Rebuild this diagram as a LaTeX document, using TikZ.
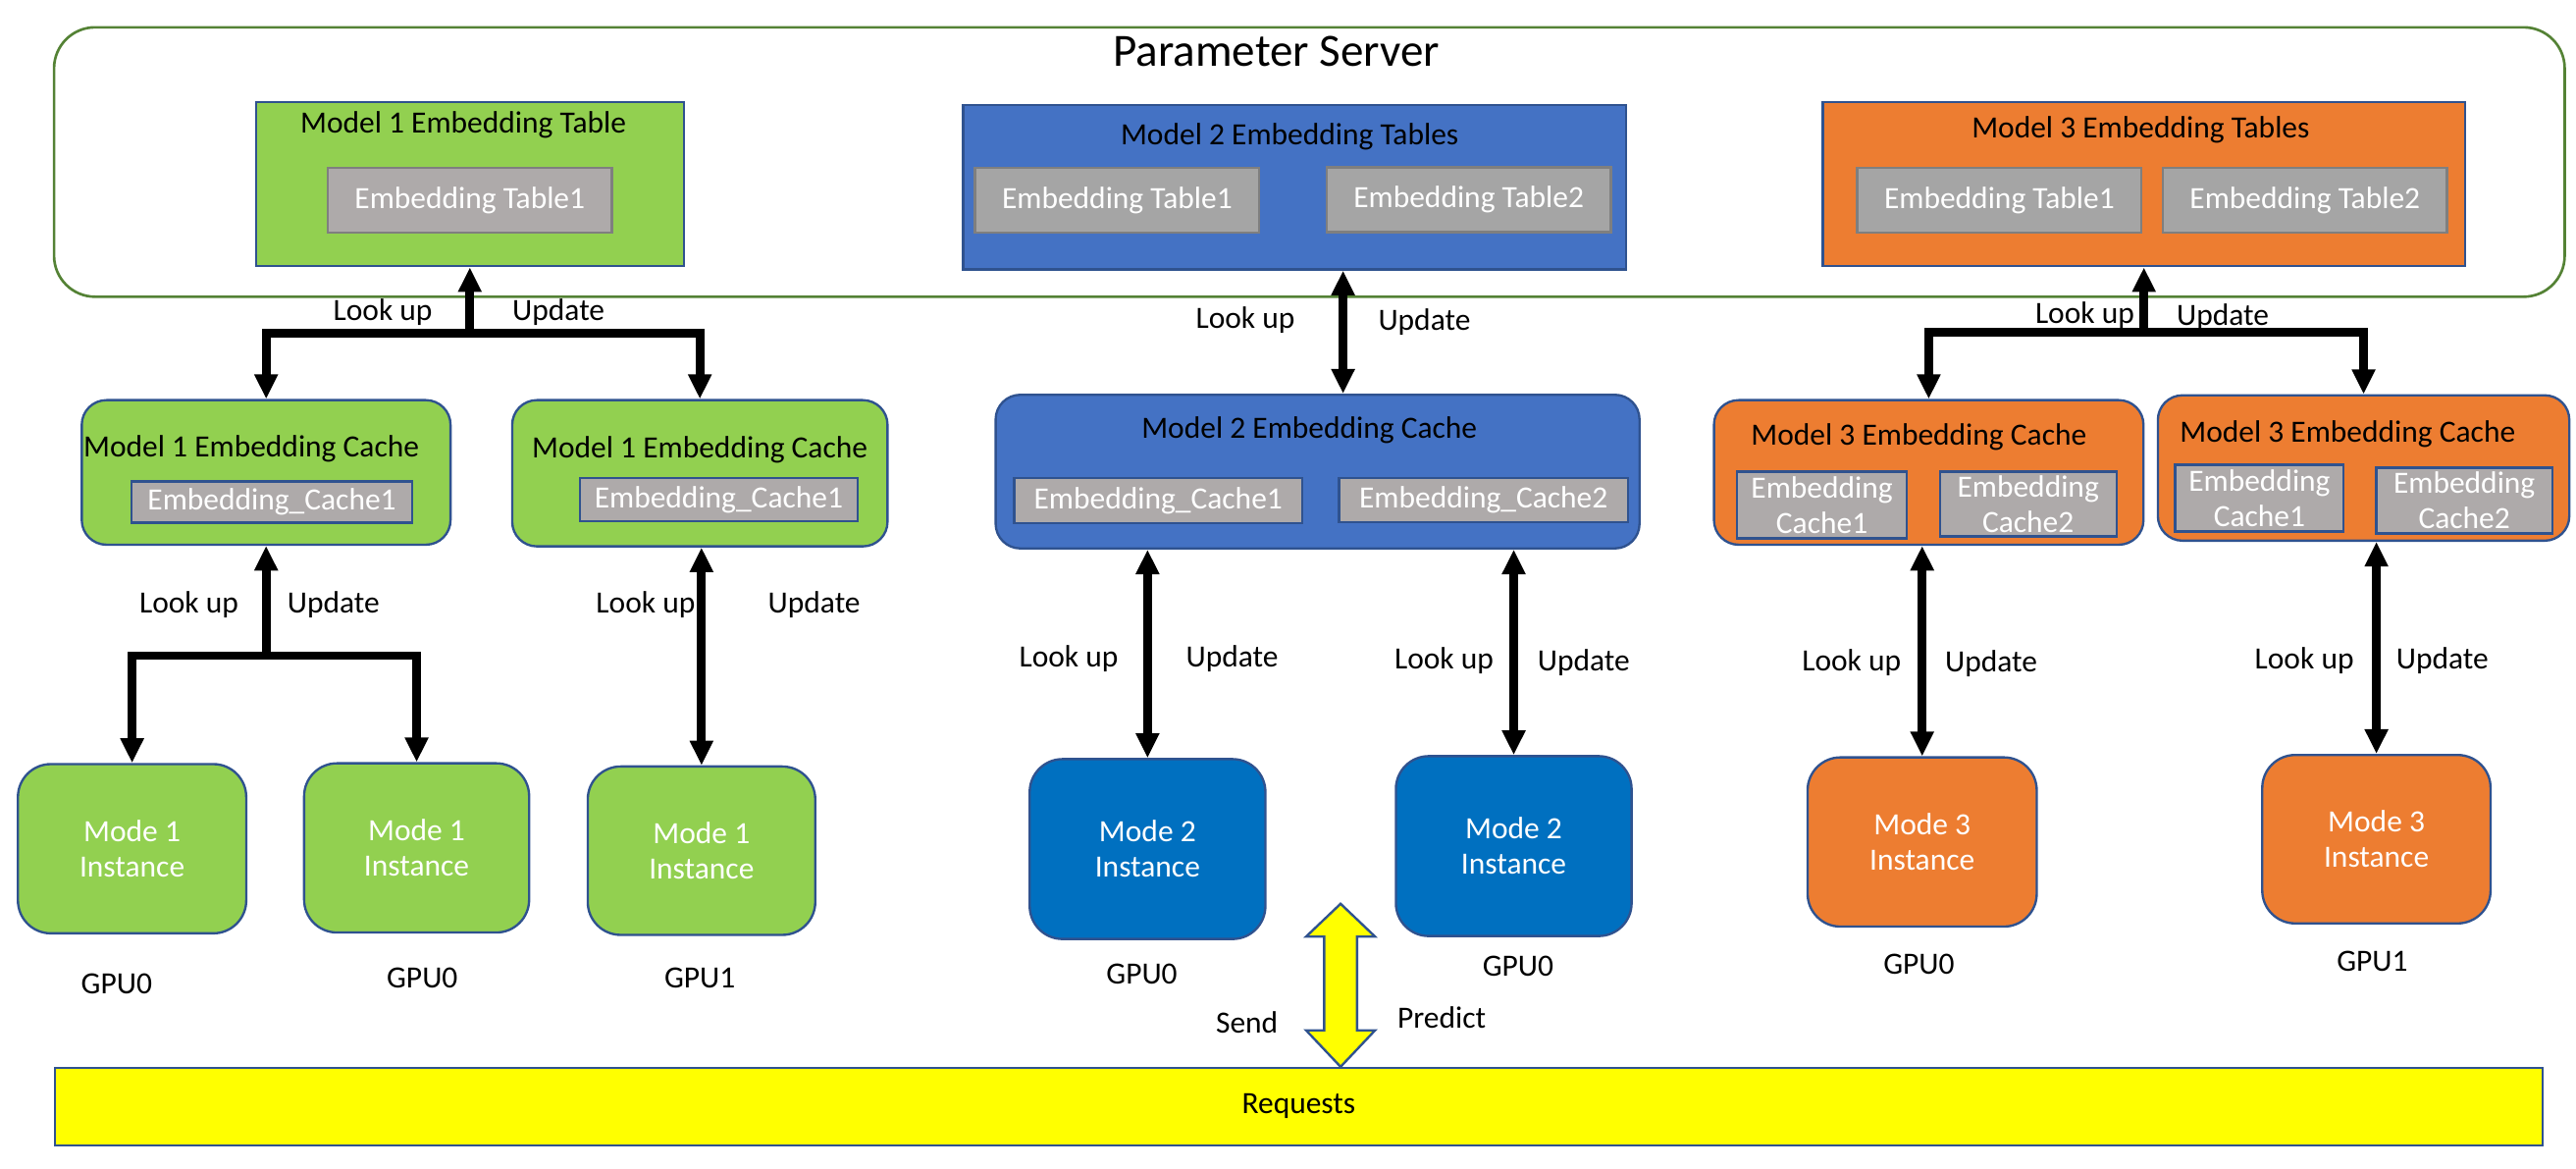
\documentclass[tikz,border=0pt]{standalone}
\usepackage{fontspec}
\setmainfont{Carlito}
\usetikzlibrary{arrows.meta}
\definecolor{psgreen}{HTML}{548235}
\definecolor{mgreen}{HTML}{92D050}
\definecolor{mblue}{HTML}{4472C4}
\definecolor{iblue}{HTML}{0070C0}
\definecolor{morange}{HTML}{ED7D31}
\definecolor{edgeblue}{HTML}{2F528F}
\definecolor{cgray}{HTML}{AEAAAA}
\definecolor{tgray}{HTML}{A5A5A5}
\definecolor{tedge}{HTML}{7F7F7F}
\definecolor{ryellow}{HTML}{FFFF00}

\begin{document}
\begin{tikzpicture}[x=0.02cm, y=-0.02cm,
    every node/.style={font=\fontsize{10.7}{12.3}\selectfont},
    box/.style={draw=edgeblue, line width=0.8pt, inner sep=0pt},
    cache/.style={box, rounded corners=0.3cm},
    inst/.style={box, rounded corners=0.4cm, minimum width=2.78cm, minimum height=2.06cm, text=white, align=center},
    tab/.style={draw=tedge, fill=tgray, line width=0.8pt, text=white, minimum width=3.46cm, minimum height=0.79cm, inner sep=0pt},
    ecache/.style={draw=edgeblue, fill=cgray, line width=0.8pt, text=white, inner sep=0pt, align=center},
    link/.style={line width=3pt, >={Triangle[width=0.27cm,length=0.3cm]}}]
    \useasboundingbox (0,0) rectangle (1568,711);

    \node[draw=psgreen, line width=0.9pt, rounded corners=0.5cm, minimum width=30.57cm, minimum height=3.28cm] (ps) at (797,98.6) {};
    \node[font=\fontsize{16}{19}\selectfont] (pst) at (777,31) {Parameter Server};

    \node[box, fill=mgreen, minimum width=5.21cm, minimum height=2cm] (T1) at (286,112) {};
    \node (T1t) at (282,76) {Model 1 Embedding Table};
    \node[tab, fill=cgray] (T1a) at (286,122) {Embedding Table1};

    \node[box, fill=mblue, minimum width=8.07cm, minimum height=2cm] (T2) at (788,114) {};
    \node (T2t) at (785,83) {Model 2 Embedding Tables};
    \node[tab] (T2a) at (680,122) {Embedding Table1};
    \node[tab] (T2b) at (894,121.5) {Embedding Table2};

    \node[box, fill=morange, minimum width=7.82cm, minimum height=2cm] (T3) at (1305,112) {};
    \node (T3t) at (1303,79) {Model 3 Embedding Tables};
    \node[tab] (T3a) at (1217,122) {Embedding Table1};
    \node[tab] (T3b) at (1403,122) {Embedding Table2};

    \node[cache, fill=mgreen, minimum width=4.49cm, minimum height=1.76cm] (C1a) at (162,287.5) {};
    \node (C1at) at (153,273) {Model 1 Embedding Cache};
    \node[ecache, minimum width=3.42cm, minimum height=0.5cm] (C1ae) at (165.5,305.5) {Embedding\_Cache1};

    \node[cache, fill=mgreen, minimum width=4.57cm, minimum height=1.78cm] (C1b) at (426,288) {};
    \node (C1bt) at (426,274) {Model 1 Embedding Cache};
    \node[ecache, minimum width=3.38cm, minimum height=0.52cm] (C1be) at (437.5,304) {Embedding\_Cache1};

    \node[cache, fill=mblue, minimum width=7.84cm, minimum height=1.87cm] (C2) at (802,287) {};
    \node (C2t) at (797,262) {Model 2 Embedding Cache};
    \node[ecache, minimum width=3.51cm, minimum height=0.55cm] (C2a) at (705,304.6) {Embedding\_Cache1};
    \node[ecache, minimum width=3.52cm, minimum height=0.54cm] (C2b) at (903,304.3) {Embedding\_Cache2};

    \node[cache, fill=morange, minimum width=5.23cm, minimum height=1.76cm] (C3a) at (1174,287.5) {};
    \node (C3at) at (1168,266) {Model 3 Embedding Cache};
    \node[ecache, minimum width=2.07cm, minimum height=0.81cm] (C3aa) at (1109,307.3) {Embedding\\Cache1};
    \node[ecache, minimum width=2.15cm, minimum height=0.79cm] (C3ab) at (1234.5,306.7) {Embedding\\Cache2};

    \node[cache, fill=morange, minimum width=5.01cm, minimum height=1.77cm] (C3b) at (1438.7,284.8) {};
    \node (C3bt) at (1429,264) {Model 3 Embedding Cache};
    \node[ecache, minimum width=2.05cm, minimum height=0.81cm] (C3ba) at (1375.3,303.1) {Embedding\\Cache1};
    \node[ecache, minimum width=2.14cm, minimum height=0.8cm] (C3bb) at (1500,304.6) {Embedding\\Cache2};

    \node[inst, fill=mgreen] (I1a) at (80.4,516.5) {Mode 1\\Instance};
    \node[inst, fill=mgreen, minimum width=2.74cm] (I1b) at (253.6,516) {Mode 1\\Instance};
    \node[inst, fill=mgreen, minimum width=2.77cm, minimum height=2.05cm] (I1c) at (427,517.7) {Mode 1\\Instance};
    \node[inst, fill=iblue, minimum width=2.87cm, minimum height=2.19cm] (I2a) at (698.5,516.7) {Mode 2\\Instance};
    \node[inst, fill=iblue, minimum width=2.87cm, minimum height=2.19cm] (I2b) at (921.4,514.9) {Mode 2\\Instance};
    \node[inst, fill=morange, minimum width=2.79cm] (I3a) at (1170,512.4) {Mode 3\\Instance};
    \node[inst, fill=morange, minimum height=2.05cm] (I3b) at (1446.5,510.7) {Mode 3\\Instance};

    \node (g1a) at (71,599) {GPU0};
    \node (g1b) at (257,595) {GPU0};
    \node (g1c) at (426,595) {GPU1};
    \node (g2a) at (695,593) {GPU0};
    \node (g2b) at (924,588) {GPU0};
    \node (g3a) at (1168,587) {GPU0};
    \node (g3b) at (1444,585) {GPU1};

    \coordinate (j1) at (286,203);
    \draw[link,->] (j1) -- (T1.south);
    \draw[link,->] (j1) -| (C1a.north);
    \draw[link,->] (j1) -| (C1b.north);
    \node (lu1) at (233,190) {Look up};
    \node (up1) at (340,190) {Update};

    \draw[link,<->] ([xshift=0.59cm]T2.south) -- ([xshift=0.59cm]T2.south |- C2.north);
    \node (lu2) at (758,195) {Look up};
    \node (up2) at (867,196) {Update};

    \coordinate (j3) at (1305,202);
    \draw[link,->] (j3) -- (T3.south);
    \draw[link,->] (j3) -| (C3a.north);
    \draw[link,->] (j3) -| (C3b.north);
    \node (lu3) at (1269,192) {Look up};
    \node (up3) at (1353,193) {Update};

    \coordinate (k1) at (162,399);
    \draw[link,->] (k1) -- (C1a.south);
    \draw[link,->] (k1) -| (I1a.north);
    \draw[link,->] (k1) -| (I1b.north);
    \node (lu1a) at (115,368) {Look up};
    \node (up1a) at (203,368) {Update};

    \draw[link,<->] (C1b.south -| I1c.north) -- (I1c.north);
    \node (lu1b) at (393,368) {Look up};
    \node (up1b) at (495.6,368) {Update};

    \draw[link,<->] (C2.south -| I2a.north) -- (I2a.north);
    \node (lu2a) at (650.5,401) {Look up};
    \node (up2a) at (750,401) {Update};
    \draw[link,<->] (C2.south -| I2b.north) -- (I2b.north);
    \node (lu2b) at (879,402) {Look up};
    \node (up2b) at (964,403) {Update};

    \draw[link,<->] (C3a.south -| I3a.north) -- (I3a.north);
    \node (lu3a) at (1127,403) {Look up};
    \node (up3a) at (1212,404) {Update};
    \draw[link,<->] (C3b.south -| I3b.north) -- (I3b.north);
    \node (lu3b) at (1402.6,402) {Look up};
    \node (up3b) at (1486.6,402) {Update};

    \node[box, fill=ryellow, minimum width=30.29cm, minimum height=0.94cm] (req) at (790.5,673.4) {Requests};
    \draw[draw=edgeblue, fill=ryellow, line width=0.8pt] (816,550) -- (837,570) -- (826,570) -- (826,627) -- (837,627)
      -- (req.north -| 816,0) -- (795,627) -- (806,627) -- (806,570) -- (795,570) -- cycle;
    \node (snd) at (759,622) {Send};
    \node (prd) at (877.5,619.5) {Predict};
  \end{tikzpicture}
\end{document}
